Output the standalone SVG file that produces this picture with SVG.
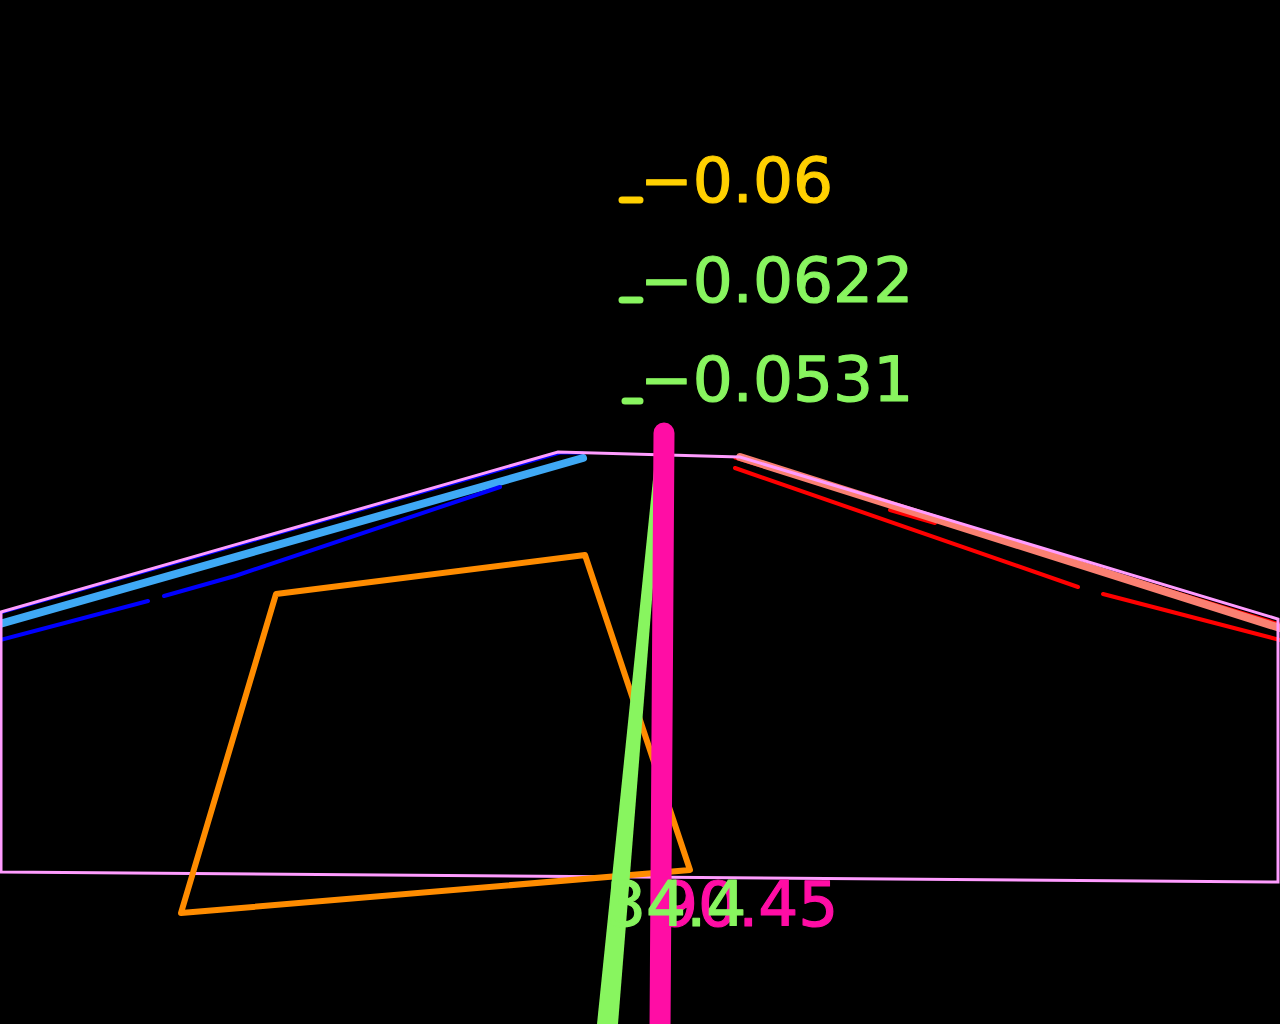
<svg xmlns="http://www.w3.org/2000/svg" width="1280" height="1024" viewBox="0 0 1280 1024">
<style>
.lbl{font-family:"DejaVu Sans",sans-serif;font-size:63px;stroke-width:1.2;stroke-linejoin:round}
.ln{fill:none;stroke-linecap:round;stroke-linejoin:round}
</style>
<rect x="0" y="0" width="1280" height="1024" fill="#000"/>
<g id="connectors">
<polyline id="blue-top" class="ln" points="0,613 560,453 583,453" stroke="#0000FF" stroke-width="3"/>
<line id="lightblue" class="ln" x1="0" y1="624" x2="583" y2="458" stroke="#3FA9F5" stroke-width="8"/>
<polyline id="blue-a" class="ln" points="0,640 148,601" stroke="#0000FF" stroke-width="4"/>
<polyline id="blue-b" class="ln" points="164,596 235,576 500,487" stroke="#0000FF" stroke-width="4"/>
<polyline id="red-top" class="ln" points="735,458 1280,624" stroke="#FF0000" stroke-width="3"/>
<line id="red-c" class="ln" x1="890" y1="510" x2="935" y2="523" stroke="#FF0000" stroke-width="4"/>
<line id="salmon" class="ln" x1="740" y1="457" x2="1280" y2="628" stroke="#FA8072" stroke-width="8"/>
<line id="red-a" class="ln" x1="735" y1="468" x2="1078" y2="587" stroke="#FF0000" stroke-width="4"/>
<line id="red-b" class="ln" x1="1103" y1="594" x2="1280" y2="640" stroke="#FF0000" stroke-width="4"/>
</g>
<g id="outline">
<polygon points="1,612 558,452 740,457 1278,619 1278,882 1,872" fill="none" stroke="#FF9CFF" stroke-width="3"/>
</g>
<g id="quad">
<polygon points="276,594 585,555 690,870 181,913" fill="none" stroke="#FF8C00" stroke-width="6" stroke-linejoin="round"/>
</g>
<g id="green-bar">
<polygon points="656,450 664,450 618,1024 597,1024" fill="#88F55F"/>
</g>
<g id="magenta-bar">
<line class="ln" x1="664" y1="433" x2="660" y2="1030" stroke="#FF0DA5" stroke-width="21"/>
</g>
<g id="labels">
<line class="ln" x1="622" y1="200" x2="640" y2="200" stroke="#FFD000" stroke-width="7"/>
<text class="lbl" x="640" y="202" fill="#FFD000" stroke="#FFD000">−0.06</text>
<line class="ln" x1="622" y1="300" x2="640" y2="300" stroke="#88F55F" stroke-width="7"/>
<text class="lbl" x="640" y="302" fill="#88F55F" stroke="#88F55F">−0.0622</text>
<line class="ln" x1="625" y1="401" x2="640" y2="401" stroke="#88F55F" stroke-width="7"/>
<text class="lbl" x="640" y="401" fill="#88F55F" stroke="#88F55F">−0.0531</text>
<text class="lbl" x="658" y="926" fill="#FF0DA5" stroke="#FF0DA5">90.45</text>
<text class="lbl" x="606" y="926" fill="#88F55F" stroke="#88F55F">34.4</text>
</g>
</svg>
